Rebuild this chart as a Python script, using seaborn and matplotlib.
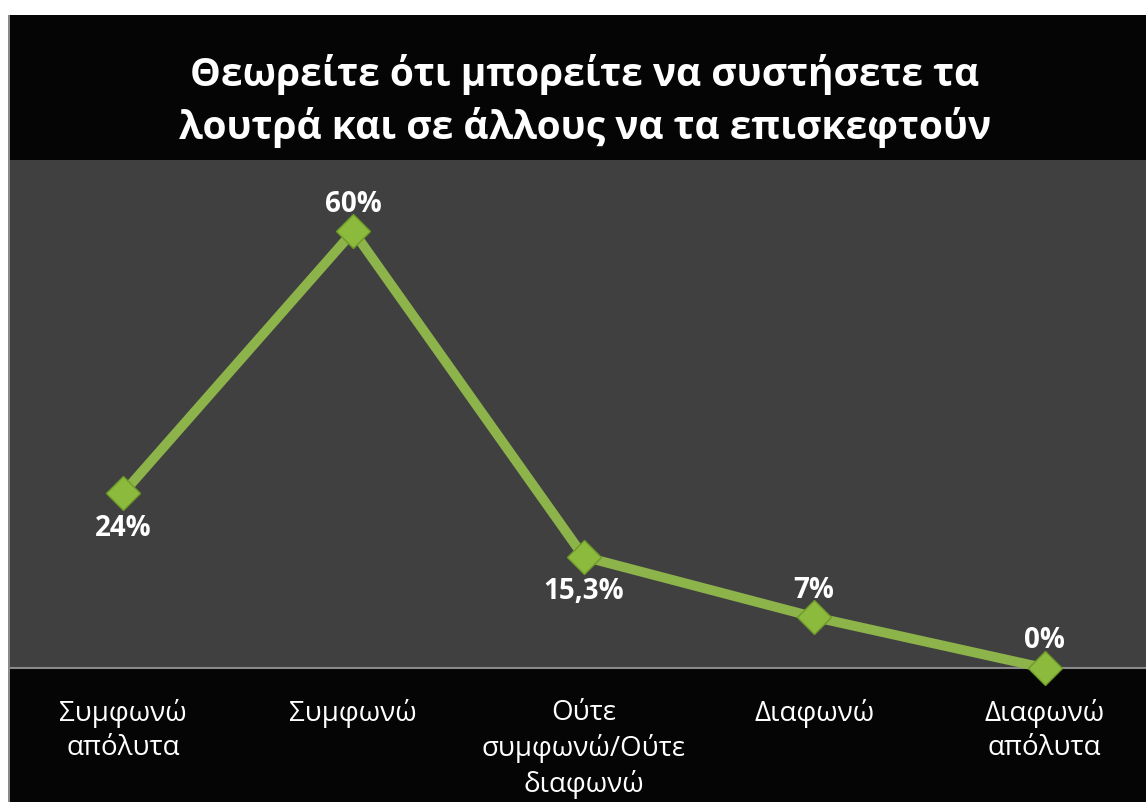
import pandas as pd
import matplotlib.pyplot as plt
import seaborn as sns
from matplotlib.patches import Rectangle

# data
categories = ['Συμφωνώ\nαπόλυτα', 'Συμφωνώ', 'Ούτε\nσυμφωνώ/Ούτε\nδιαφωνώ', 'Διαφωνώ', 'Διαφωνώ\nαπόλυτα']
values = [24, 60, 15.3, 7, 0]
value_labels = ['24%', '60%', '15,3%', '7%', '0%']
label_above = [False, True, False, True, True]

df = pd.DataFrame({'x': range(len(categories)), 'y': values})

sns.set_theme(style='dark')
plt.rcParams['font.family'] = ['Open Sans', 'DejaVu Sans']

W, H = 1146, 802
fig = plt.figure(figsize=(W / 100, H / 100), dpi=100)
fig.patch.set_facecolor('white')

# black frame behind everything
fig.add_artist(Rectangle((8 / W, 0), 1 - 8 / W, 1 - 15 / H, transform=fig.transFigure,
                         facecolor='#050505', edgecolor='none', zorder=0))
fig.add_artist(Rectangle((8 / W, 0), 2 / W, 1 - 15 / H, transform=fig.transFigure,
                         facecolor='#8a8a8a', edgecolor='none', zorder=0))

ax = fig.add_axes([10 / W, (H - 668) / H, (W - 10) / W, (668 - 160) / H])
ax.set_facecolor('#404040')

sns.lineplot(data=df, x='x', y='y', color='#8db34b', linewidth=7,
             marker='D', markersize=17, markerfacecolor='#8cba3c',
             markeredgecolor='#6f9a2a', markeredgewidth=1, ax=ax, clip_on=False, zorder=5)

# data labels
for i, (v, lab, up) in enumerate(zip(values, value_labels, label_above)):
    off = 27 if up else -35
    ax.annotate(lab, (i, v), xytext=(0, off), textcoords='offset pixels',
                ha='center', va='center', color='white', fontsize=20, fontweight='bold')

ax.set_xlim(-0.49, 4.44)
ax.set_ylim(0, 69.8)
ax.set_xticks(range(len(categories)))
ax.set_xticklabels(categories, color='white', fontsize=20, linespacing=1.32)
ax.set_yticks([])
ax.tick_params(axis='x', length=0, pad=22)
ax.set_xlabel('')
ax.set_ylabel('')
for s in ['top', 'right', 'left']:
    ax.spines[s].set_visible(False)
ax.spines['bottom'].set_color('#8a8a8a')
ax.spines['bottom'].set_linewidth(1.5)

fig.text(585 / W, 1 - 101 / H,
         'Θεωρείτε ότι μπορείτε να συστήσετε τα\nλουτρά και σε άλλους να τα επισκεφτούν',
         ha='center', va='center', color='white', fontsize=28, fontweight='bold', linespacing=1.35)

fig.savefig('out.png', dpi=100, facecolor=fig.get_facecolor())
